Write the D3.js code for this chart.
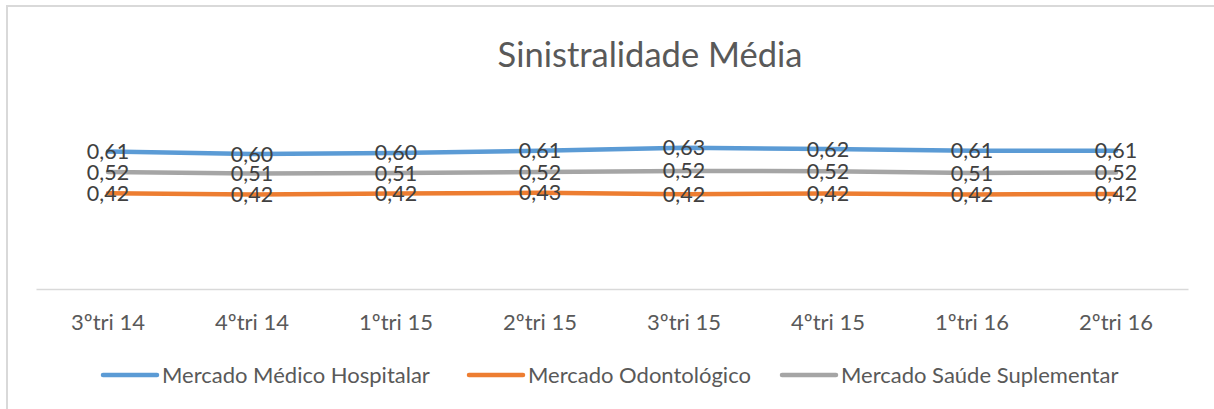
<!DOCTYPE html>
<html>
<head>
<meta charset="utf-8">
<script src="https://cdn.jsdelivr.net/npm/d3@7"></script>
<style>
  body { margin: 0; background: #fff; }
  svg { display: block; font-family: Lato, "Open Sans", sans-serif; }
</style>
</head>
<body>
<svg id="chart"></svg>
<script>
'use strict';

var categories = ["3ºtri 14", "4ºtri 14", "1ºtri 15", "2ºtri 15", "3ºtri 15", "4ºtri 15", "1ºtri 16", "2ºtri 16"];
var seriesNames = ["Mercado Médico Hospitalar", "Mercado Odontológico", "Mercado Saúde Suplementar"];
var medicoHospitalar = [0.609, 0.598, 0.603, 0.612, 0.626, 0.620, 0.612, 0.612];
var odontologico = [0.424, 0.419, 0.423, 0.426, 0.420, 0.423, 0.419, 0.421];
var saudeSuplementar = [0.518, 0.512, 0.514, 0.518, 0.523, 0.522, 0.514, 0.516];
var seriesColors = ["#5b9bd5", "#ed7d31", "#a5a5a5"];

var width = 1214, height = 409;
var plot = { left: 36, right: 1188, top: 131, bottom: 289 };

var svg = d3.select('#chart')
  .attr('width', width)
  .attr('height', height);

// chart frame (only left and top edges show in the picture)
svg.append('rect')
  .attr('x', 7).attr('y', 6)
  .attr('width', 1400).attr('height', 600)
  .attr('fill', 'none')
  .attr('stroke', '#d9d9d9')
  .attr('stroke-width', 2);

svg.append('text')
  .attr('x', 650)
  .attr('y', 55)
  .attr('text-anchor', 'middle')
  .attr('dy', '0.35em')
  .style('font-size', '34.5px')
  .style('fill', '#595959')
  .text('Sinistralidade Média');

var x = d3.scaleBand()
  .domain(categories)
  .range([plot.left, plot.right]);

var y = d3.scaleLinear()
  .domain([0, 0.7])
  .range([plot.bottom, plot.top]);

// category axis
var xAxis = svg.append('g')
  .attr('transform', 'translate(0,' + plot.bottom + ')')
  .call(d3.axisBottom(x).tickSize(0).tickPadding(41));
xAxis.select('.domain').attr('stroke', '#d9d9d9').attr('stroke-width', 1.3);
xAxis.selectAll('text')
  .style('font-family', 'Lato, sans-serif')
  .style('font-size', '22px')
  .style('fill', '#595959')
  .attr('dy', '0');

var allSeries = [
  { name: seriesNames[0], values: medicoHospitalar, color: seriesColors[0] },
  { name: seriesNames[1], values: odontologico, color: seriesColors[1] },
  { name: seriesNames[2], values: saudeSuplementar, color: seriesColors[2] }
];

var line = d3.line()
  .x(function (d, i) { return x(categories[i]) + x.bandwidth() / 2; })
  .y(function (d) { return y(d); });

var linesG = svg.append('g');
allSeries.forEach(function (s) {
  linesG.append('path')
    .datum(s.values)
    .attr('d', line)
    .attr('fill', 'none')
    .attr('stroke', s.color)
    .attr('stroke-width', 4.5)
    .attr('stroke-linejoin', 'round')
    .attr('stroke-linecap', 'round');
});

// data labels, centred on the points
var fmt = function (v) { return d3.format('.2f')(v).replace('.', ','); };
var labelsG = svg.append('g');
allSeries.forEach(function (s) {
  labelsG.selectAll(null)
    .data(s.values)
    .enter().append('text')
    .attr('x', function (d, i) { return x(categories[i]) + x.bandwidth() / 2; })
    .attr('y', function (d) { return y(d); })
    .attr('dy', '0.35em')
    .attr('text-anchor', 'middle')
    .style('font-size', '21.5px')
    .style('fill', '#404040')
    .text(fmt);
});

// legend
var legendX = [103, 469, 782];
var legend = svg.append('g');
allSeries.forEach(function (s, i) {
  var item = legend.append('g').attr('transform', 'translate(' + legendX[i] + ',375)');
  item.append('line')
    .attr('x1', 0).attr('x2', 54)
    .attr('stroke', s.color)
    .attr('stroke-width', 4.5)
    .attr('stroke-linecap', 'round');
  item.append('text')
    .attr('x', 59)
    .attr('dy', '0.35em')
    .style('font-size', '22px')
    .style('fill', '#595959')
    .text(s.name);
});
</script>
</body>
</html>
